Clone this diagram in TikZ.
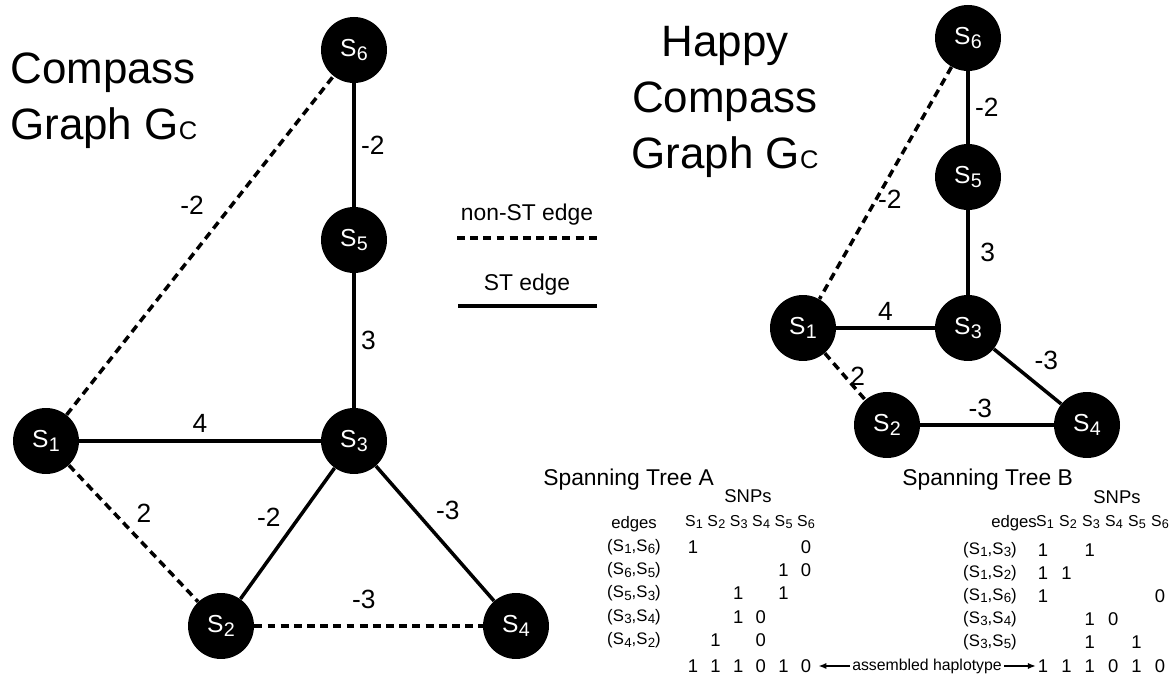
\documentclass[tikz,border=0pt]{standalone}
\usepackage{fontspec}
\setmainfont{Liberation Sans}
\usetikzlibrary{arrows.meta, positioning}

\tikzset{
  font=\fontsize{10.5}{12}\selectfont,
  >={Latex[length=4.5pt, width=3.5pt]},
  %
  snode/.style={circle, fill=black, text=white, minimum size=1.32cm,
                inner sep=0pt, font=\fontsize{14}{16}\selectfont},
  st/.style={draw=black, line width=2pt},
  nonst/.style={draw=black, line width=2pt, dash pattern=on 4.5pt off 3pt},
  wt/.style={font=\fontsize{15}{18}\selectfont, inner sep=3pt},
  %
  title/.style={font=\fontsize{25}{32}\selectfont, inner sep=0pt},
  legtxt/.style={font=\fontsize{13}{15}\selectfont, inner sep=1pt},
  tabhead/.style={font=\fontsize{13}{15}\selectfont, inner sep=0pt},
  snps/.style={font=\fontsize{10.5}{12}\selectfont, inner sep=0pt},
  lbl/.style={font=\fontsize{9.5}{11}\selectfont, inner sep=1pt},
  colhead/.style={font=\fontsize{9}{11}\selectfont, inner sep=0pt},
  cell/.style={font=\fontsize{10.5}{12}\selectfont, inner sep=1pt},
  hap/.style={draw=black, line width=0.7pt, ->},
}
\newcommand{\sv}[1]{S\kern.2pt\raisebox{-.3ex}{\scalebox{.8}{#1}}}

\begin{document}
\begin{tikzpicture}[x=0.02cm, y=-0.02cm]
  \useasboundingbox (0,0) rectangle (1171,678);

  % --- compass graph -----------------------------------------------------
  \node[title, anchor=west, align=left] (tl) at (10,101)
    {Compass\\Graph G\scalebox{.58}{C}};

  \node[snode] (l6) at (354,50)  {\sv{6}};
  \node[snode] (l5) at (354,240) {\sv{5}};
  \node[snode] (l3) at (354,441) {\sv{3}};
  \node[snode] (l1) at (46,441)  {\sv{1}};
  \node[snode] (l2) at (221,626) {\sv{2}};
  \node[snode] (l4) at (516,626) {\sv{4}};

  \draw[st] (l6) -- node[wt, right] {-2} (l5);
  \draw[st] (l5) -- node[wt, right] {3} (l3);
  \draw[st] (l1) -- node[wt, above=1pt] {4} (l3);
  \draw[st] (l3) -- node[wt, above left] {-2} (l2);
  \draw[st] (l3) -- node[wt, pos=0.45, above right] {-3} (l4);
  \draw[nonst] (l1) -- node[wt, pos=0.62, left=12pt] {-2} (l6);
  \draw[nonst] (l1) -- node[wt, pos=0.47, above right] {2} (l2);
  \draw[nonst] (l2) -- node[wt, pos=0.48, above=6pt] {-3} (l4);

  % --- legend ------------------------------------------------------------
  \node[legtxt] (lgn) at (527,215) {non-ST edge};
  \coordinate (lgn1) at (457,238);
  \coordinate (lgn2) at (600,238);
  \draw[nonst, line width=2.6pt] (lgn1) -- (lgn2);
  \node[legtxt] (lgs) at (527,285) {ST edge};
  \coordinate (lgs1) at (458,306);
  \coordinate (lgs2) at (597,306);
  \draw[st, line width=2.6pt] (lgs1) -- (lgs2);

  % --- happy compass graph -----------------------------------------------
  \node[title, align=center] (tr) at (725,102)
    {Happy\\Compass\\Graph G\scalebox{.58}{C}};

  \node[snode] (r6) at (968,38)  {\sv{6}};
  \node[snode] (r5) at (968,177) {\sv{5}};
  \node[snode] (r3) at (968,328) {\sv{3}};
  \node[snode] (r1) at (803,328) {\sv{1}};
  \node[snode] (r2) at (887,425) {\sv{2}};
  \node[snode] (r4) at (1087,425) {\sv{4}};

  \draw[st] (r6) -- node[wt, right] {-2} (r5);
  \draw[st] (r5) -- node[wt, right=3pt] {3} (r3);
  \draw[st] (r1) -- node[wt, above] {4} (r3);
  \draw[st] (r3) -- node[wt, above right] {-3} (r4);
  \draw[st] (r2) -- node[wt, pos=0.45, above] {-3} (r4);
  \draw[nonst] (r6) -- node[wt, pos=0.57, anchor=west, inner sep=0pt] {-2} (r1);
  \draw[nonst] (r1) -- node[wt, right=-1pt] {2} (r2);

  % --- spanning tree A ---------------------------------------------------
  \node[tabhead, anchor=west] (ta) at (543,480) {Spanning Tree A};
  \node[snps] (sa) at (748,496) {SNPs};
  \node[lbl] (eda) at (634,524) {edges};
  \foreach \c in {1,...,6}
    \node[colhead] (ha\c) at ({694+22.4*(\c-1)},522) {\sv{\c}};
  \foreach \a/\b [count=\r] in {1/6,6/5,5/3,3/4,4/2}
    \node[lbl] (ea\r) at (634,{547+23.3*(\r-1)}) {(\sv{\a},\sv{\b})};
  \foreach \r/\c/\v in {1/1/1,1/6/0,2/5/1,2/6/0,3/3/1,3/5/1,4/3/1,4/4/0,5/2/1,5/4/0}
    \node[cell] (va\r\c) at ({693+22.6*(\c-1)},{547+23.3*(\r-1)}) {\v};
  \foreach \v [count=\c] in {1,1,1,0,1,0}
    \node[cell] (pa\c) at ({693+22.6*(\c-1)},666) {\v};

  % --- spanning tree B ---------------------------------------------------
  \node[tabhead, anchor=west] (tb) at (902,480) {Spanning Tree B};
  \node[snps] (sb) at (1117,497) {SNPs};
  \node[lbl] (edb) at (1014,523) {edges};
  \foreach \c in {1,...,6}
    \node[colhead] (hb\c) at ({1045+23*(\c-1)},522) {\sv{\c}};
  \foreach \a/\b [count=\r] in {1/3,1/2,1/6,3/4,3/5}
    \node[lbl] (eb\r) at (990,{550+23*(\r-1)}) {(\sv{\a},\sv{\b})};
  \foreach \r/\c/\v in {1/1/1,1/3/1,2/1/1,2/2/1,3/1/1,3/6/0,4/3/1,4/4/0,5/3/1,5/5/1}
    \node[cell] (vb\r\c) at ({1043+23.4*(\c-1)},{550+23*(\r-1)}) {\v};
  \foreach \v [count=\c] in {1,1,1,0,1,0}
    \node[cell] (pb\c) at ({1043+23.4*(\c-1)},666) {\v};

  % --- assembled haplotype -----------------------------------------------
  \node[font=\fontsize{9}{11}\selectfont, inner sep=1pt] (asm) at (927,666)
    {assembled haplotype};
  \draw[hap, shorten >=3pt] (asm) -- (pa6);
  \draw[hap] (asm) -- (pb1);

\end{tikzpicture}
\end{document}
